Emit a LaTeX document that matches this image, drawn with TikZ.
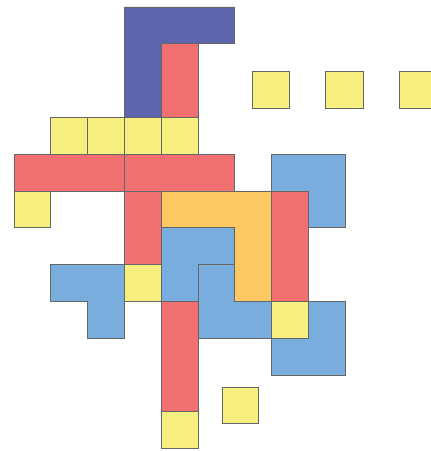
\documentclass[tikz,border=0pt]{standalone}
\definecolor{cnavy}{RGB}{94,100,174}
\definecolor{cred}{RGB}{240,112,114}
\definecolor{cyel}{RGB}{247,240,128}
\definecolor{corange}{RGB}{252,200,100}
\definecolor{cblue}{RGB}{121,173,221}
\tikzset{
  piece/.style={draw=black!60, line width=0.8pt, line join=miter},
  navy/.style={piece, fill=cnavy},
  redp/.style={piece, fill=cred},
  yel/.style={piece, fill=cyel},
  orp/.style={piece, fill=corange},
  blu/.style={piece, fill=cblue}
}
\begin{document}
\begin{tikzpicture}[x=36.8pt, y=-36.8pt]
\useasboundingbox (-0.3804,-0.1902) rectangle (11.3043,12.0652);
% top navy piece and red bar
\draw[navy] (3,0) -- (6,0) -- (6,1) -- (4,1) -- (4,3) -- (3,3) -- cycle;
\draw[redp] (4,1) rectangle (5,3);
% row of yellow squares
\foreach \c in {1,2,3,4} \draw[yel] (\c,3) rectangle ++(1,1);
% red bars row 4
\draw[redp] (0,4) rectangle (3,5);
\draw[redp] (3,4) rectangle (6,5);
\draw[yel] (0,5) rectangle (1,6);
\draw[redp] (3,5) rectangle (4,7);
% right blue L
\draw[blu] (7,4) -- (9,4) -- (9,6) -- (8,6) -- (8,5) -- (7,5) -- cycle;
% orange
\draw[orp] (4,5) -- (7,5) -- (7,8) -- (6,8) -- (6,6) -- (4,6) -- cycle;
\draw[redp] (7,5) rectangle (8,8);
% blue middle pieces
\draw[blu] (4,6) -- (6,6) -- (6,7) -- (5,7) -- (5,8) -- (4,8) -- cycle;
\draw[blu] (5,7) -- (6,7) -- (6,8) -- (7,8) -- (7,9) -- (5,9) -- cycle;
% left blue
\draw[blu] (1,7) -- (3,7) -- (3,9) -- (2,9) -- (2,8) -- (1,8) -- cycle;
\draw[yel] (3,7) rectangle (4,8);
% lower red and yellow
\draw[redp] (4,8) rectangle (5,11);
\draw[yel] (4,11) rectangle (5,12);
% lower right blue and yellow
\draw[blu] (8,8) -- (9,8) -- (9,10) -- (7,10) -- (7,9) -- (8,9) -- cycle;
\draw[yel] (7,8) rectangle (8,9);
% free yellow squares
\foreach \c in {6.47,8.47,10.47} \draw[yel] (\c,1.74) rectangle ++(1.02,1.02);
\draw[yel] (5.652,10.326) rectangle ++(1,1);
\end{tikzpicture}
\end{document}
